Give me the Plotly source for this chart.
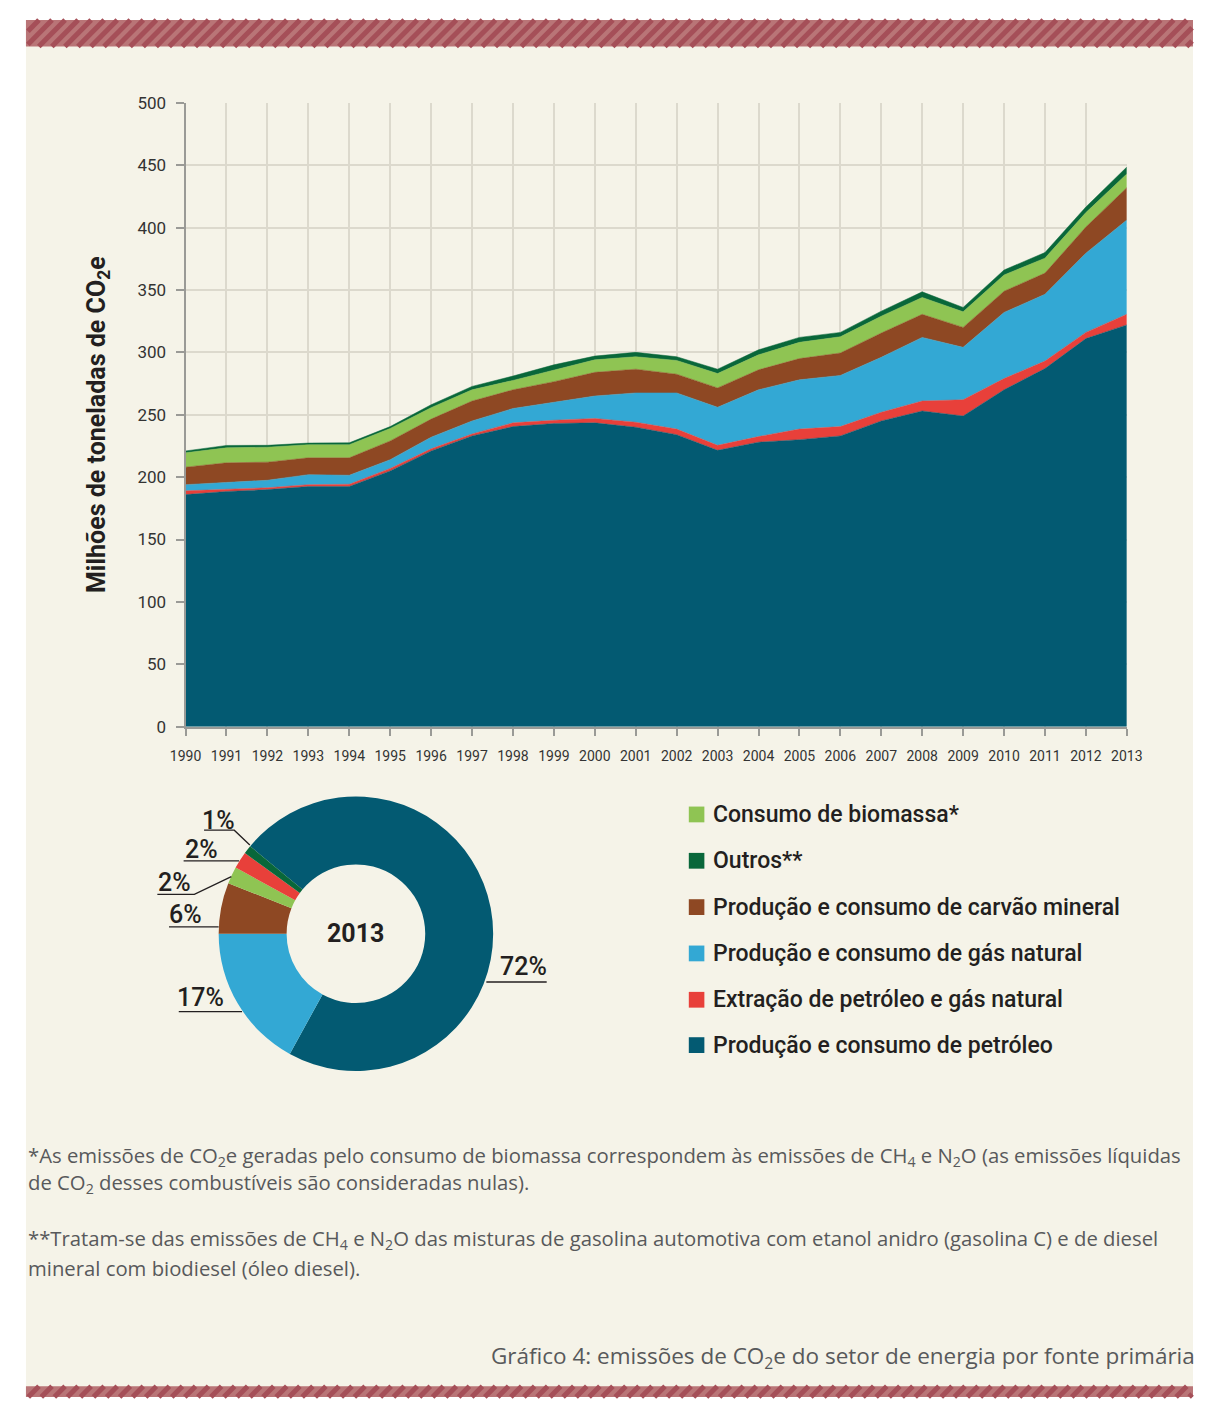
import plotly.graph_objects as go

# ---------------- DATA ----------------
years = list(range(1990, 2014))
year_labels = [str(y) for y in years]

petroleo = [186, 188.5, 190, 192.5, 192.5, 205, 221, 233, 240.5, 243, 243.5, 240,
            234, 221.5, 228, 230, 233, 245, 253, 249, 270, 287, 311, 322]
extracao = [3, 2, 1.5, 1.5, 1.8, 2, 1.7, 1.6, 3, 2.6, 3.5, 4,
            4.5, 4, 4.5, 8.5, 7.5, 7, 8, 13, 9, 6, 5, 8.5]
gas = [5, 5.5, 6, 8, 7.2, 7, 9.3, 10.4, 11.5, 14.4, 18, 23.5,
       29, 30.5, 37.5, 39.5, 41, 44, 51, 42, 53, 53.5, 63.5, 75.5]
carvao = [14, 15.5, 14.5, 13.5, 14, 15, 14.5, 16, 15, 16.5, 19, 19,
          15, 15.5, 16, 17, 18, 19.5, 18.5, 16, 17, 17, 21, 26]
biomassa = [11.5, 12, 12, 10.5, 10.5, 10, 9.2, 9, 7.5, 9.5, 10, 10,
            11, 11.5, 12, 13, 13, 13.5, 13.5, 12.5, 13, 12, 11.5, 11]
outros = [1.5, 1.9, 1.5, 1.3, 1.5, 1.5, 2.3, 2.7, 3.5, 4, 3, 3.5,
          3, 3.5, 4, 4, 3.5, 4, 4.5, 3.5, 4, 4.5, 4.5, 5.5]

y_ticks = [0, 50, 100, 150, 200, 250, 300, 350, 400, 450, 500]

names = {
    "petroleo": "Produção e consumo de petróleo",
    "extracao": "Extração de petróleo e gás natural",
    "gas": "Produção e consumo de gás natural",
    "carvao": "Produção e consumo de carvão mineral",
    "biomassa": "Consumo de biomassa*",
    "outros": "Outros**",
}
colors = {
    "petroleo": "#035a72",
    "extracao": "#e8403a",
    "gas": "#33a8d4",
    "carvao": "#8e4823",
    "biomassa": "#8fc453",
    "outros": "#09673a",
}
stack_order = ["petroleo", "extracao", "gas", "carvao", "biomassa", "outros"]
series = {"petroleo": petroleo, "extracao": extracao, "gas": gas,
          "carvao": carvao, "biomassa": biomassa, "outros": outros}

legend_order = ["biomassa", "outros", "carvao", "gas", "extracao", "petroleo"]

# pie (2013 shares, %)
pie_year = "2013"
pie_keys = ["petroleo", "gas", "carvao", "biomassa", "extracao", "outros"]
pie_pct = [72, 17, 6, 2, 2, 1]

# ---------------- LAYOUT HELPERS ----------------
# The page body has an 8px margin; the figure starts at window (8, 8) and
# reaches the window's right/bottom edges. Positions are in window pixels.
WIN_W, WIN_H = 1209, 1407
OFF = 8
W, H = WIN_W - OFF, WIN_H - OFF
def px(x):
    return (x - OFF) / W
def py(y):
    return 1 - (y - OFF) / H

BG = "#f5f3e8"
TXT = "#231f20"
GRAY = "#58595b"

fig = go.Figure()

for k in stack_order:
    fig.add_trace(go.Scatter(
        x=years, y=series[k], name=names[k], stackgroup="one",
        mode="lines", line=dict(width=0.5, color=colors[k]),
        fillcolor=colors[k], showlegend=False, hoverinfo="x+y+name",
    ))

fig.add_trace(go.Pie(
    labels=[names[k] for k in pie_keys], values=pie_pct,
    marker=dict(colors=[colors[k] for k in pie_keys], line=dict(width=0)),
    hole=0.505, sort=False, direction="clockwise", rotation=309.6,
    textinfo="none", showlegend=False,
    domain=dict(x=[px(208), px(490)], y=[py(1078), py(796)]),
))

shapes = []
annotations = []

# cream page (white border on top/left)
shapes.append(dict(type="rect", xref="paper", yref="paper",
                   x0=px(10), x1=1, y0=0, y1=py(10),
                   fillcolor=BG, line=dict(width=0), layer="below"))

RIGHT = OFF + W  # window x of the figure's right edge

# hatched bands (all kept inside the page)
def band(y0, y1):
    shapes.append(dict(type="rect", xref="paper", yref="paper",
                       x0=px(10), x1=1, y0=py(y1), y1=py(y0),
                       fillcolor="#b97577", line=dict(width=0), layer="below"))
    h = y1 - y0
    step = 13.4
    xb = 10 - h
    while xb < RIGHT:
        xs, ys = xb, y1
        if xs < 12:
            ys = y1 - (12 - xs)
            xs = 12
        xe, ye = xb + h, y0
        if xe > RIGHT - 1:
            ye = y0 + (xe - (RIGHT - 1))
            xe = RIGHT - 1
        if xe > xs + 1 and ys > ye + 1:
            shapes.append(dict(type="line", xref="paper", yref="paper",
                               x0=px(xs), y0=py(ys), x1=px(xe), y1=py(ye),
                               line=dict(color="#a54f58", width=5), layer="below"))
        xb += step

band(10, 37)
band(1396, OFF + H)

# legend
leg_y = [816, 863, 910, 957, 1004, 1050]
for k, yy in zip(legend_order, leg_y):
    shapes.append(dict(type="rect", xref="paper", yref="paper",
                       x0=px(691), x1=px(707), y0=py(yy + 8), y1=py(yy - 8),
                       fillcolor=colors[k], line=dict(width=0)))
    annotations.append(dict(xref="paper", yref="paper", x=px(714), y=py(yy),
                            xanchor="left", yanchor="middle", showarrow=False,
                            text=names[k],
                            font=dict(family="Roboto", size=23, color=TXT, weight=500)))

# pie labels with leader lines
pie_label_pos = {
    "petroleo": dict(text_xy=(521, 970), line=[(483, 986), (545, 986)]),
    "gas": dict(text_xy=(189, 1002), line=[(232, 1016), (167, 1016)]),
    "carvao": dict(text_xy=(174, 918), line=[(208, 930), (157, 930)]),
    "biomassa": dict(text_xy=(163, 885), line=[(221, 879), (183, 897), (145, 897)]),
    "extracao": dict(text_xy=(190, 852), line=[(229, 863), (172, 863)]),
    "outros": dict(text_xy=(208, 822), line=[(240, 847), (224, 832), (193, 832)]),
}
for k, v in zip(pie_keys, pie_pct):
    p = pie_label_pos[k]
    pts = p["line"]
    path = "M " + " L ".join(f"{px(a):.5f},{py(b):.5f}" for a, b in pts)
    shapes.append(dict(type="path", xref="paper", yref="paper", path=path,
                       line=dict(color=TXT, width=1.3)))
    annotations.append(dict(xref="paper", yref="paper",
                            x=px(p["text_xy"][0]), y=py(p["text_xy"][1]),
                            xanchor="center", yanchor="middle", showarrow=False,
                            text=f"{v}%",
                            font=dict(family="Roboto", size=25, color=TXT, weight=500)))

annotations.append(dict(xref="paper", yref="paper", x=px(349), y=py(937),
                        xanchor="center", yanchor="middle", showarrow=False,
                        text=pie_year,
                        font=dict(family="Roboto", size=25, color=TXT, weight="bold")))

# y-axis title
annotations.append(dict(xref="paper", yref="paper", x=px(84), y=py(420),
                        xanchor="center", yanchor="middle", showarrow=False,
                        textangle=-90,
                        text="Milhões de toneladas de CO<sub>2</sub>e",
                        font=dict(family="Roboto", size=25, color=TXT, weight="bold")))

# footnotes
foot = [
    (1162, "*As emissões de CO<sub>2</sub>e geradas pelo consumo de biomassa correspondem às emissões de CH<sub>4</sub> e N<sub>2</sub>O (as emissões líquidas"),
    (1190, "de CO<sub>2</sub> desses combustíveis são consideradas nulas)."),
    (1247, "**Tratam-se das emissões de CH<sub>4</sub> e N<sub>2</sub>O das misturas de gasolina automotiva com etanol anidro (gasolina C) e de diesel"),
    (1276, "mineral com biodiesel (óleo diesel)."),
]
for yy, t in foot:
    annotations.append(dict(xref="paper", yref="paper", x=px(10), y=py(yy),
                            xanchor="left", yanchor="middle", showarrow=False,
                            text=t, font=dict(family="Open Sans", size=20.3, color=GRAY)))

annotations.append(dict(xref="paper", yref="paper", x=px(486), y=py(1366),
                        xanchor="left", yanchor="middle", showarrow=False,
                        text="Gráfico 4: emissões de CO<sub>2</sub>e do setor de energia por fonte primária",
                        font=dict(family="Open Sans", size=22.5, color=GRAY)))

fig.update_layout(
    width=W, height=H,
    margin=dict(l=0, r=0, t=0, b=0),
    paper_bgcolor="#ffffff",
    plot_bgcolor="rgba(0,0,0,0)",
    shapes=shapes,
    annotations=annotations,
    showlegend=False,
    xaxis=dict(
        domain=[px(174), px(1141)], range=[1990, 2013],
        tickmode="array", tickvals=years, ticktext=year_labels,
        showgrid=True, gridcolor="#dcd9cd", gridwidth=1.6,
        showline=True, linecolor="#9a9a96", linewidth=2,
        ticks="outside", ticklen=7, tickcolor="#9a9a96", tickwidth=1.5,
        ticklabelstandoff=8,
        tickfont=dict(family="Roboto", size=14, color="#333333"),
        zeroline=False, fixedrange=True,
    ),
    yaxis=dict(
        domain=[py(727), py(94)], range=[0, 500],
        tickmode="array", tickvals=y_ticks,
        showgrid=True, gridcolor="#dcd9cd", gridwidth=1.6,
        showline=True, linecolor="#9a9a96", linewidth=2,
        ticks="outside", ticklen=8, tickcolor="#9a9a96", tickwidth=1.5,
        ticklabelstandoff=6,
        tickfont=dict(family="Roboto", size=17, color="#333333"),
        zeroline=False, fixedrange=True,
    ),
)

fig.write_html("out.html")
